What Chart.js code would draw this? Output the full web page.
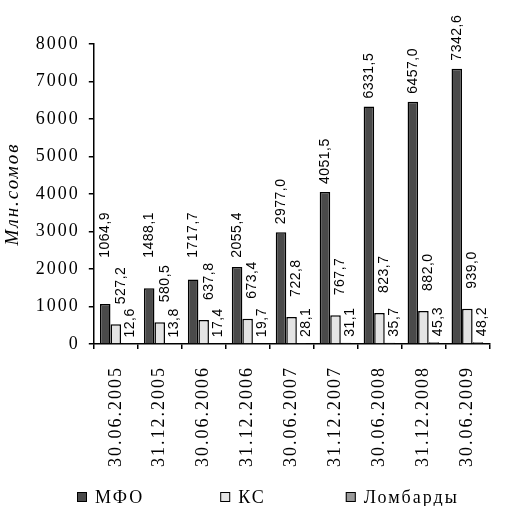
<!DOCTYPE html>
<html>
<head>
<meta charset="utf-8">
<script src="https://cdn.jsdelivr.net/npm/chart.js@4.4.1/dist/chart.umd.min.js"></script>
<style>
  html, body { margin: 0; padding: 0; background: #ffffff; }
  #wrap { width: 506px; height: 506px; }
</style>
</head>
<body>
<div id="wrap"><canvas id="c" width="506" height="506"></canvas></div>
<script>
// Reporting dates
const dates = ['30.06.2005', '31.12.2005', '30.06.2006', '31.12.2006', '30.06.2007',
               '31.12.2007', '30.06.2008', '31.12.2008', '30.06.2009'];

// Volumes, mln som
const mfo = [1064.9, 1488.1, 1717.7, 2055.4, 2977.0, 4051.5, 6331.5, 6457.0, 7342.6];
const ks = [527.2, 580.5, 637.8, 673.4, 722.8, 767.7, 823.7, 882.0, 939.0];
const lombard = [12.6, 13.8, 17.4, 19.7, 28.1, 31.1, 35.7, 45.3, 48.2];

const seriesNames = ['МФО', 'КС', 'Ломбарды'];
const yTicks = [0, 1000, 2000, 3000, 4000, 5000, 6000, 7000, 8000];

const serif = '"Liberation Serif", "Times New Roman", serif';
const legendFont = '18px ' + serif;

// Comma as the decimal separator
function fmt(v) {
  return v.toFixed(1).replace('.', ',');
}

// Wider tracking for all chart text
const spacingPlugin = {
  id: 'spacing',
  beforeUpdate(chart) { chart.ctx.letterSpacing = '2px'; },
  beforeDraw(chart) { chart.ctx.letterSpacing = '2px'; }
};

// Single-row legend with wide gaps between entries, drawn under the axis labels
const wideLegend = {
  id: 'wideLegend',
  afterDraw(chart) {
    const ctx = chart.ctx;
    const gaps = [76, 80], box = 10, textGap = 8;
    ctx.save();
    ctx.letterSpacing = '2px';
    ctx.font = legendFont;
    ctx.textAlign = 'left';
    ctx.textBaseline = 'middle';
    let x = 77;
    const y = chart.height - 9;
    chart.data.datasets.forEach((ds, i) => {
      const w = box + textGap + ctx.measureText(ds.label).width;
      ctx.fillStyle = ds.backgroundColor;
      ctx.fillRect(x, y - box / 2, box, box);
      ctx.strokeStyle = '#000000';
      ctx.lineWidth = 1;
      ctx.strokeRect(x + 0.5, y - box / 2 + 0.5, box - 1, box - 1);
      ctx.fillStyle = '#000000';
      ctx.fillText(ds.label, x + box + textGap, y + 1);
      x += w + (gaps[i] || 0);
    });
    ctx.restore();
  }
};

// Vertical value labels above each bar
const valueLabels = {
  id: 'valueLabels',
  afterDatasetsDraw(chart) {
    const ctx = chart.ctx;
    const yScale = chart.scales.y;
    // lowest baseline allowed for the МФО labels, so they clear the КС labels
    const floorMfo = yScale.getPixelForValue(2300);
    const settings = [
      { dx: 0, gap: 8 },
      { dx: 5, gap: 20 },
      { dx: 4, gap: 6 }
    ];
    ctx.save();
    ctx.letterSpacing = '0.5px';
    ctx.font = '14px "Liberation Sans", Arial, sans-serif';
    ctx.fillStyle = '#000000';
    ctx.textAlign = 'left';
    ctx.textBaseline = 'middle';
    chart.data.datasets.forEach((ds, di) => {
      const meta = chart.getDatasetMeta(di);
      meta.data.forEach((bar, i) => {
        let y = bar.y - settings[di].gap;
        if (di === 0 && y > floorMfo) y = floorMfo;
        ctx.save();
        ctx.translate(bar.x + settings[di].dx, y);
        ctx.rotate(-Math.PI / 2);
        ctx.fillText(fmt(ds.data[i]), 0, 0);
        ctx.restore();
      });
    });
    ctx.restore();
  }
};

const chart = new Chart(document.getElementById('c'), {
  type: 'bar',
  data: {
    labels: dates,
    datasets: [
      { label: seriesNames[0], data: mfo, backgroundColor: '#4a4a4a', borderColor: '#000000', borderWidth: 1.5 },
      { label: seriesNames[1], data: ks, backgroundColor: '#e4e4e4', borderColor: '#000000', borderWidth: 1.5 },
      { label: seriesNames[2], data: lombard, backgroundColor: '#999999', borderColor: '#000000', borderWidth: 1.5 }
    ]
  },
  options: {
    responsive: false,
    animation: false,
    devicePixelRatio: 1,
    layout: { padding: { top: 44, left: 2, right: 1, bottom: 22 } },
    datasets: {
      bar: { categoryPercentage: 0.72, barPercentage: 1.0, borderSkipped: 'start' }
    },
    plugins: {
      tooltip: { enabled: false },
      legend: { display: false }
    },
    scales: {
      x: {
        border: { display: true, color: '#000000', width: 1.5 },
        grid: { display: true, drawOnChartArea: false, color: '#000000', tickLength: 5, lineWidth: 1.5, offset: true },
        ticks: {
          color: '#000000',
          font: { family: serif, size: 18 },
          minRotation: 90,
          maxRotation: 90,
          autoSkip: false,
          padding: 17
        }
      },
      y: {
        min: 0,
        max: 8000,
        afterBuildTicks(scale) {
          scale.ticks = yTicks.map(v => ({ value: v }));
        },
        border: { display: true, color: '#000000', width: 1.5 },
        grid: { display: true, drawOnChartArea: false, color: '#000000', tickLength: 5, lineWidth: 1.5 },
        ticks: {
          color: '#000000',
          font: { family: serif, size: 18 },
          padding: 9,
          callback: v => String(v)
        },
        title: {
          display: true,
          text: 'Млн.сомов',
          color: '#000000',
          font: { family: serif, size: 19, style: 'italic' },
          padding: { top: 0, bottom: 2 }
        }
      }
    }
  },
  plugins: [spacingPlugin, wideLegend, valueLabels]
});
</script>
</body>
</html>
